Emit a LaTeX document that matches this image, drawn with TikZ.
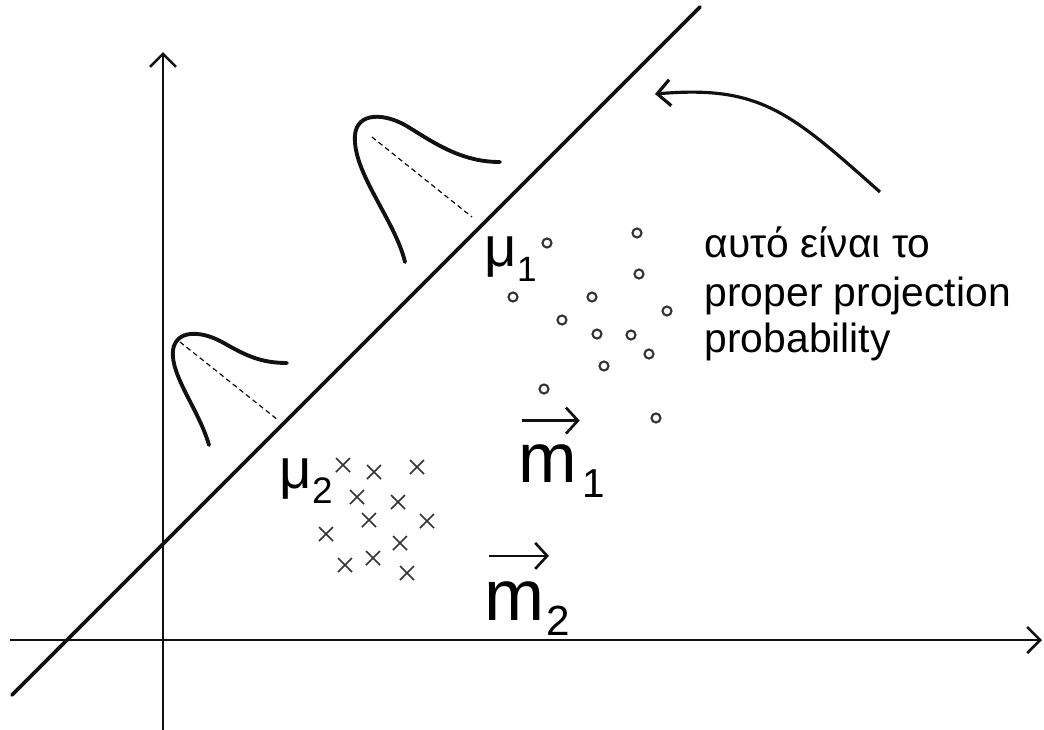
\documentclass[tikz,border=0pt]{standalone}
\usepackage{fontspec}
\setmainfont{Liberation Sans}
\usepackage{tikz}
\usetikzlibrary{arrows.meta,positioning,calc}
\definecolor{Ink}{HTML}{111111}
\definecolor{Mark}{HTML}{333333}

\begin{document}
\begin{tikzpicture}[x=0.01cm,y=-0.01cm,
  axis/.style={line width=0.75pt,draw=Ink,-{Straight Barb[length=1.3mm,width=2.6mm]}},
  proj/.style={line width=1.1pt,draw=Ink,line cap=round},
  bell/.style={line width=1.1pt,draw=Ink,line cap=round},
  guide/.style={line width=0.35pt,draw=Ink,dash pattern=on 1.4pt off 1pt},
  dot/.style={line width=0.6pt,draw=Mark},
  xmark/.style={line width=0.5pt,draw=Mark},
  lab/.style={inner sep=0pt,anchor=base west},
  note/.style={inner sep=0pt,anchor=base west,font=\fontsize{11.6}{14}\selectfont},
  vec/.style={line width=0.75pt,draw=Ink,-{Straight Barb[length=1.2mm,width=2.6mm]}},
  pointer/.style={line width=0.9pt,draw=Ink,-{Straight Barb[length=1.3mm,width=2.6mm]}}
]
\useasboundingbox (0,0) rectangle (1044,730);
% axes
\coordinate (xs) at (10,640);
\coordinate (xe) at (1042,640);
\coordinate (ys) at (163,730);
\coordinate (ye) at (163,52);
\draw[axis] (xs) -- (xe);
\draw[axis] (ys) -- (ye);
% projection line
\coordinate (ps) at (12,695);
\coordinate (pe) at (700,7);
\draw[proj] (ps) -- (pe);
% projected densities
\draw[bell] (209,445) .. controls (199,410) and (170,375) .. (173,350) .. controls (176,330) and (200,330) .. (222,342) .. controls (245,355) and (260,363) .. (287,363);
\draw[guide] (180,342) -- (278,420);
\draw[bell] (405,262) .. controls (395,220) and (352,172) .. (355,135) .. controls (357,112) and (385,112) .. (410,128) .. controls (440,147) and (465,162) .. (500,162);
\draw[guide] (372,137) -- (472,217);
% class 1 samples
\foreach \cx/\cy in {547/243,637/233,639/274,513/297,592/297,667/311,562/320,597/334,631/335,649/354,604/366,544/389,656/418}
  \draw[dot] (\cx,\cy) circle[radius=0.45mm];
% class 2 samples
\foreach \cx/\cy in {343/465,374/472,417/467,357/497,398/502,369/520,427/521,326/534,400/543,345/565,373/558,407/573}
  \draw[xmark] (\cx-7,\cy-7) -- (\cx+7,\cy+7) (\cx-7,\cy+7) -- (\cx+7,\cy-7);
% labels
\node[lab,font=\fontsize{16}{16}\selectfont] (mu1) at (484,266) {μ\raisebox{-4.5pt}{\fontsize{10}{10}\selectfont 1}};
\node[lab,font=\fontsize{16}{16}\selectfont] (mu2) at (279,488) {μ\raisebox{-4.5pt}{\fontsize{10.5}{10.5}\selectfont 2}};
\node[lab,font=\fontsize{20}{20}\selectfont] (m1) at (518,482) {m};
\node[lab,font=\fontsize{11.5}{11.5}\selectfont] (m1s) at ([xshift=1pt,yshift=-4.5pt]m1.base east) {1};
\draw[vec] ([xshift=1pt,yshift=6.5pt]m1.north west) -- ([xshift=0.5pt,yshift=6.5pt]m1.north east);
\node[lab,font=\fontsize{20.5}{20.5}\selectfont] (m2) at (484,620) {m};
\node[lab,font=\fontsize{12}{12}\selectfont] (m2s) at ([yshift=-4.3pt]m2.base east) {2};
\draw[vec] ([xshift=1.5pt,yshift=7pt]m2.north west) -- ([xshift=1pt,yshift=7pt]m2.north east);
% note
\node[note] (note1) at (704,257) {αυτό είναι το};
\node[note] (note2) at (704,306) {proper projection};
\node[note] (note3) at (704,352) {probability};
\coordinate (tail) at (880,192);
\coordinate (head) at (655,94);
\draw[pointer] (tail) .. controls (790,112) and (760,85) .. (head);
\end{tikzpicture}
\end{document}
